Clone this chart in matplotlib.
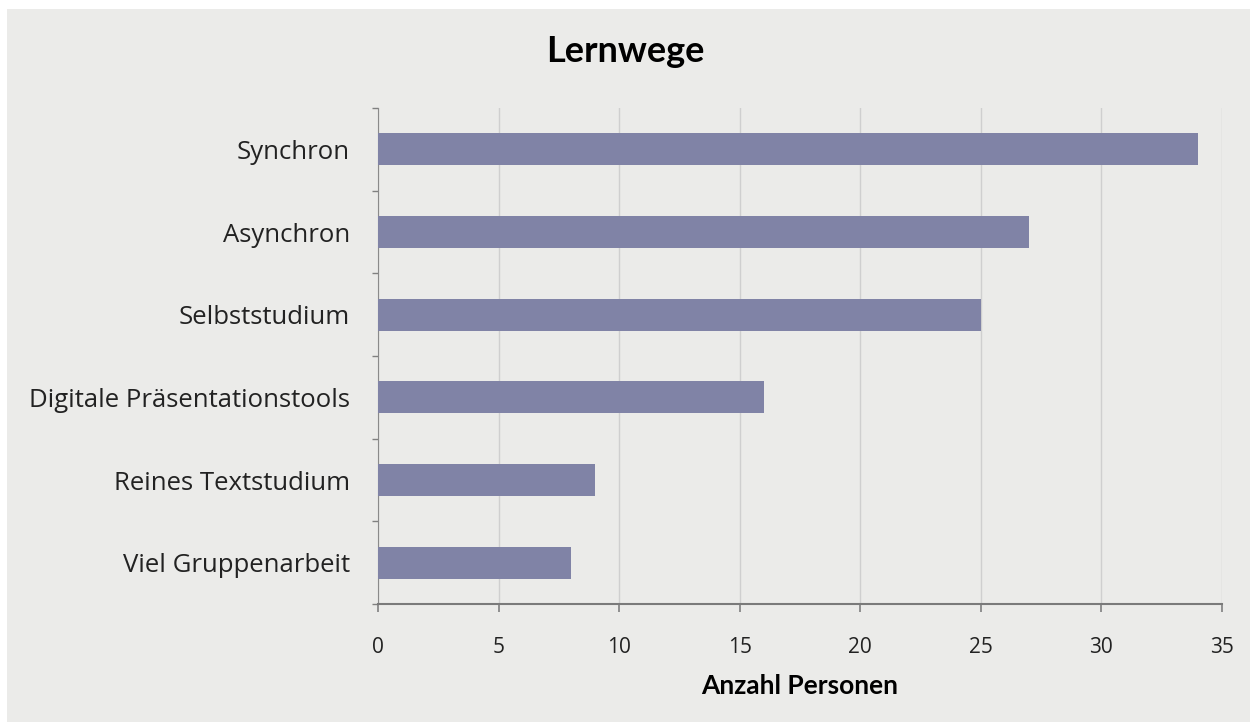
import matplotlib
matplotlib.use('Agg')

import matplotlib.pyplot as plt
from matplotlib.patches import Rectangle

# Daten
kategorien = ['Synchron', 'Asynchron', 'Selbststudium',
              'Digitale Präsentationstools', 'Reines Textstudium',
              'Viel Gruppenarbeit']
anzahl = [34, 27, 25, 16, 9, 8]
x_ticks = [0, 5, 10, 15, 20, 25, 30, 35]

bg = '#ebebe9'
bar_col = '#8083a6'

plt.rcParams['font.family'] = ['Lato', 'DejaVu Sans']
tick_font = ['Open Sans', 'DejaVu Sans']

fig = plt.figure(figsize=(12.5, 7.22), dpi=100, facecolor='white')
# grauer Hintergrund mit weissem Rand oben/links
fig.patches.append(Rectangle((7 / 1250, 0), 1, 1 - 9 / 722,
                             transform=fig.transFigure, facecolor=bg,
                             edgecolor='none', zorder=-10))

ax = fig.add_axes([378 / 1250, 1 - 604 / 722, 844 / 1250, 496 / 722])
ax.set_facecolor(bg)

y = range(len(kategorien))
ax.barh(y, anzahl, height=0.39, color=bar_col, zorder=3)

ax.set_xlim(0, 35)
ax.set_ylim(len(kategorien) - 0.5, -0.5)
ax.set_xticks(x_ticks)
ax.set_xticklabels([str(t) for t in x_ticks], fontsize=15, color='#222222',
                   family=tick_font)
ax.tick_params(axis='x', length=6, width=1.2, color='#808080', pad=18)

# Kategorien-Beschriftung, Ticks an den Grenzen
ax.set_yticks(list(y))
ax.set_yticklabels(kategorien, fontsize=18.5, color='#222222', family=tick_font)
ax.tick_params(axis='y', which='major', length=0, pad=20)
ax.set_yticks([i + 0.5 for i in range(-1, len(kategorien))], minor=True)
ax.tick_params(axis='y', which='minor', length=4, width=1, color='#808080')

ax.grid(axis='x', color='#cfcfcf', linewidth=1, zorder=0)
ax.set_axisbelow(True)

for s in ['top', 'right']:
    ax.spines[s].set_visible(False)
ax.spines['left'].set_color('#8a8a8a')
ax.spines['bottom'].set_color('#7a7a7a')
ax.spines['bottom'].set_linewidth(1.5)

ax.set_xlabel('Anzahl Personen', fontsize=19, fontweight='bold', labelpad=11)
fig.text(0.5, 1 - 52 / 722, 'Lernwege', fontsize=26, fontweight='bold',
         ha='center', va='center')

plt.savefig('out.png', dpi=100, facecolor='white')
